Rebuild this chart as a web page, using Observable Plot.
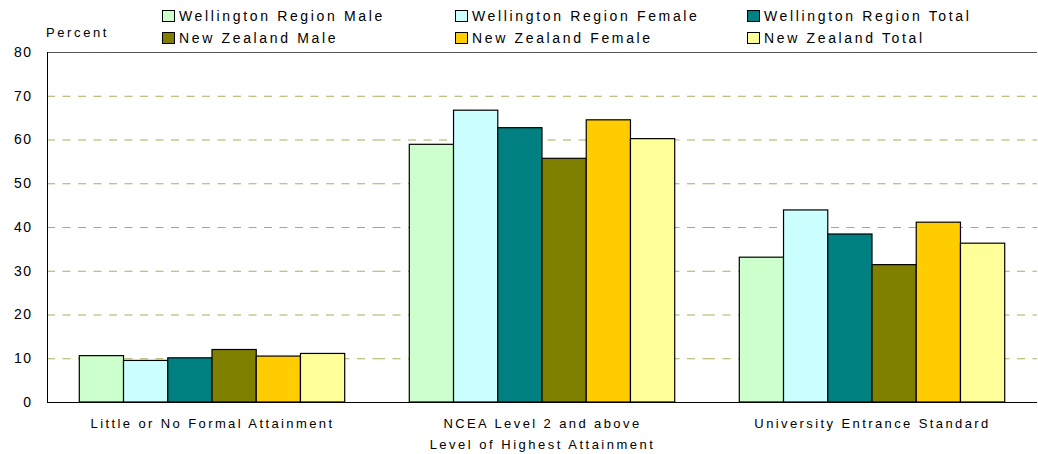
<!DOCTYPE html>
<html><head><meta charset="utf-8">
<script src="https://cdn.jsdelivr.net/npm/d3@7"></script>
<script src="https://cdn.jsdelivr.net/npm/@observablehq/plot@0.6"></script>
<style>
body{margin:0;background:#fff;font-family:"Liberation Sans",Arial,sans-serif;}
#wrap{position:relative;width:1038px;height:454px;}
#legend{position:absolute;left:0;top:0;width:1038px;height:50px;}
.item{position:absolute;display:flex;align-items:center;font-size:14px;letter-spacing:2.65px;color:#000;white-space:nowrap;line-height:16px;}
.sw{width:11px;height:10px;border:1px solid #000;margin-right:4px;box-sizing:content-box;}
#percent{position:absolute;left:46px;top:25px;font-size:13px;letter-spacing:2.6px;color:#000;}
#chart svg{font-family:"Liberation Sans",Arial,sans-serif;}
#chart svg text{letter-spacing:1.5px;}
#chart svg g[aria-label="fx-axis tick label"] text{letter-spacing:2.4px;}
#chart svg g[aria-label="text"] text{letter-spacing:2.5px;}
</style>
</head><body>
<div id="wrap"><div id="chart"></div><div id="legend"></div><div id="percent">Percent</div></div>
<script>
const categories = ["Little or No Formal Attainment", "NCEA Level 2 and above", "University Entrance Standard"];
const series = ["Wellington Region Male", "Wellington Region Female", "Wellington Region Total", "New Zealand Male", "New Zealand Female", "New Zealand Total"];
const colors = ["#ccffcc", "#ccffff", "#008080", "#808000", "#ffcc00", "#ffff99"];
const wellingtonMale   = [10.6, 58.9, 33.1];
const wellingtonFemale = [9.5, 66.7, 43.9];
const wellingtonTotal  = [10.1, 62.7, 38.4];
const nzMale           = [12.0, 55.7, 31.4];
const nzFemale         = [10.5, 64.5, 41.1];
const nzTotal          = [11.1, 60.2, 36.3];
const yTicks = [0, 10, 20, 30, 40, 50, 60, 70, 80];
const gridTicks = [10, 20, 30, 40, 50, 60, 70];
const xTitle = "Level of Highest Attainment";

const seriesValues = [wellingtonMale, wellingtonFemale, wellingtonTotal, nzMale, nzFemale, nzTotal];
const rows = [];
categories.forEach((c, i) => series.forEach((s, j) => rows.push({category: c, series: s, value: seriesValues[j][i]})));

const chart = Plot.plot({
  width: 1038, height: 454,
  marginTop: 52, marginBottom: 52, marginLeft: 46, marginRight: 0,
  fx: {domain: categories, padding: 0, label: null, axis: null},
  x: {domain: series, paddingInner: 0, paddingOuter: 0.73, axis: null, round: false},
  y: {domain: [0, 80], axis: null},
  color: {domain: series, range: colors},
  marks: [
    Plot.ruleY(gridTicks, {stroke: "#adad5c", strokeDasharray: "8,7.5"}),
    Plot.ruleY([80], {stroke: "#555"}),
    Plot.barY(rows, {fx: "category", x: "series", y: "value", fill: "series", stroke: "#000", strokeWidth: 1.2, inset: 0}),
    Plot.ruleY([0], {stroke: "#000", strokeWidth: 1.2}),
    Plot.frame({anchor: "left", facetAnchor: "left", stroke: "#000"}),
    Plot.axisY({ticks: yTicks, tickSize: 0, tickPadding: 15, fontSize: 14, label: null, tickFormat: d => d}),
    Plot.axisFx({anchor: "bottom", tickSize: 0, tickPadding: 16, fontSize: 13, label: null}),
    Plot.text([xTitle], {fx: () => categories[1], frameAnchor: "bottom", dy: 46, fontSize: 13, fill: "#000"})
  ]
});
document.getElementById("chart").appendChild(chart);

const legend = document.getElementById("legend");
const colX = [162, 455, 747];
const rowY = [8, 30];
series.forEach((s, i) => {
  const d = document.createElement("div");
  d.className = "item";
  d.style.left = colX[i % 3] + "px";
  d.style.top = rowY[Math.floor(i / 3)] + "px";
  const sw = document.createElement("span");
  sw.className = "sw";
  sw.style.background = colors[i];
  d.appendChild(sw);
  d.appendChild(document.createTextNode(s));
  legend.appendChild(d);
});
</script>
</body></html>
